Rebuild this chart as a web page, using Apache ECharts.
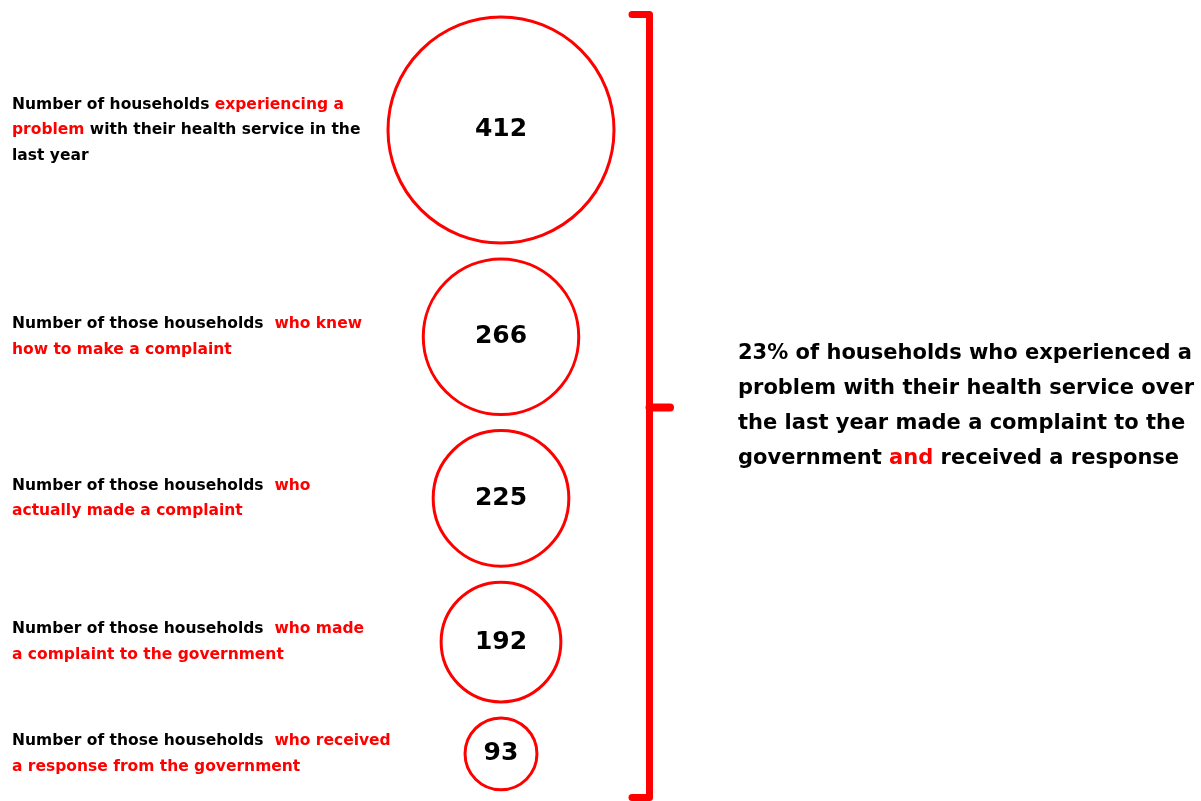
<!DOCTYPE html>
<html>
<head>
<meta charset="utf-8">
<script src="https://cdn.jsdelivr.net/npm/echarts@6/dist/echarts.min.js"></script>
<style>html,body{margin:0;padding:0;background:#fff}#c{width:1201px;height:801px}</style>
</head>
<body>
<div id="c"></div>
<script>
// ---- data ----
const values = [412, 266, 225, 192, 93];
const stageLabels = [
  'Number of households {r|experiencing a}\n{r|problem} with their health service in the\nlast year',
  'Number of those households  {r|who knew}\n{r|how to make a complaint}',
  'Number of those households  {r|who}\n{r|actually made a complaint}',
  'Number of those households  {r|who made}\n{r|a complaint to the government}',
  'Number of those households  {r|who received}\n{r|a response from the government}'
];
const summaryText = '23% of households who experienced a\nproblem with their health service over\nthe last year made a complaint to the\ngovernment {r|and} received a response';

// ---- layout ----
const RED = '#ff0000';
const FONT = 'DejaVu Sans';
const diam = v => 0.483 * v + 27;
const GAP = 16, TOP = 17, CX = 501, LABEL_X = 12;
const centersY = [];
let cur = TOP;
values.forEach(v => { const d = diam(v); centersY.push(cur + d / 2); cur += d + GAP; });

const chart = echarts.init(document.getElementById('c'));
chart.setOption({
  animation: false,
  backgroundColor: '#fff',
  grid: {left: 0, right: 0, top: 0, bottom: 0},
  xAxis: {type: 'value', min: 0, max: 1201, show: false},
  yAxis: {type: 'value', min: 0, max: 801, inverse: true, show: false},
  series: [
    {
      type: 'scatter',
      silent: true,
      data: values.map((v, i) => [CX, centersY[i], v]),
      symbol: 'circle',
      symbolSize: d => diam(d[2]),
      itemStyle: {color: '#ffffff', borderColor: RED, borderWidth: 3, opacity: 1},
      label: {
        show: true, position: 'inside',
        formatter: p => String(p.data[2]),
        fontFamily: FONT, fontWeight: 'bold', fontSize: 25, color: '#000'
      }
    },
    {
      type: 'scatter',
      silent: true,
      data: stageLabels.map((t, i) => [LABEL_X, centersY[i]]),
      symbolSize: 0,
      itemStyle: {color: 'rgba(0,0,0,0)', opacity: 1},
      label: {
        show: true, position: 'right', distance: 0, align: 'left',
        formatter: p => stageLabels[p.dataIndex],
        fontFamily: FONT, fontWeight: 'bold', fontSize: 15.5, color: '#000',
        lineHeight: 25.5,
        rich: {r: {color: RED, fontFamily: FONT, fontWeight: 'bold', fontSize: 15.5, lineHeight: 25.5}}
      }
    }
  ],
  graphic: [
    {
      type: 'polyline', silent: true,
      shape: {points: [[632, 14.5], [649.5, 14.5], [649.5, 797.5], [632, 797.5]]},
      style: {stroke: RED, lineWidth: 7, fill: null, lineJoin: 'round', lineCap: 'round'}
    },
    {
      type: 'line', silent: true,
      shape: {x1: 649.5, y1: 407.5, x2: 670, y2: 407.5},
      style: {stroke: RED, lineWidth: 8, lineCap: 'round'}
    },
    {
      type: 'text', silent: true, left: 738, top: 336,
      style: {
        text: summaryText,
        fontFamily: FONT, fontWeight: 'bold', fontSize: 21, fill: '#000',
        lineHeight: 35,
        rich: {r: {fill: RED, fontFamily: FONT, fontWeight: 'bold', fontSize: 21, lineHeight: 35}}
      }
    }
  ]
});
</script>
</body>
</html>
